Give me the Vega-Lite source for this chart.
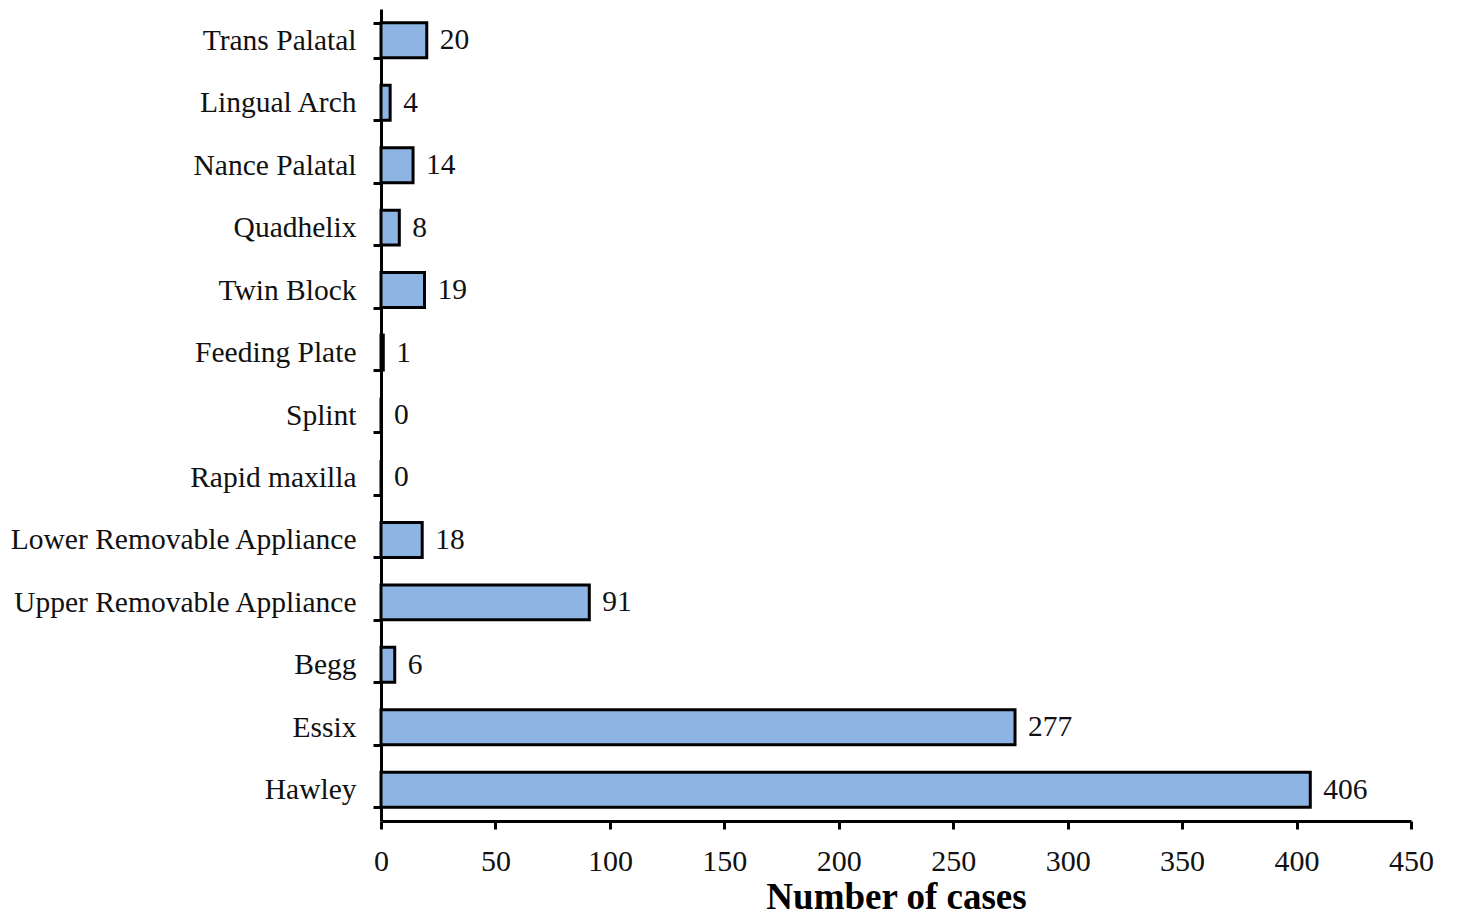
{
  "$schema": "https://vega.github.io/schema/vega-lite/v6.json",
  "autosize": {"type": "none"},
  "width": 1030,
  "height": 812,
  "padding": {"left": 381, "top": 9, "right": 48, "bottom": 100},
  "background": "white",
  "config": {
    "view": {"stroke": null},
    "font": "Liberation Serif",
    "axis": {"labelFont": "Liberation Serif", "titleFont": "Liberation Serif", "labelColor": "#111111", "titleColor": "#000000", "domainColor": "black", "tickColor": "black", "domainWidth": 3, "tickWidth": 3, "grid": false}
  },
  "data": {
    "values": [
      {"appliance": "Trans Palatal", "cases": 20},
      {"appliance": "Lingual Arch", "cases": 4},
      {"appliance": "Nance Palatal", "cases": 14},
      {"appliance": "Quadhelix", "cases": 8},
      {"appliance": "Twin Block", "cases": 19},
      {"appliance": "Feeding Plate", "cases": 1},
      {"appliance": "Splint", "cases": 0},
      {"appliance": "Rapid maxilla", "cases": 0},
      {"appliance": "Lower Removable Appliance", "cases": 18},
      {"appliance": "Upper Removable Appliance", "cases": 91},
      {"appliance": "Begg", "cases": 6},
      {"appliance": "Essix", "cases": 277},
      {"appliance": "Hawley", "cases": 406}
    ]
  },
  "encoding": {
    "y": {
      "field": "appliance", "type": "nominal", "sort": null,
      "scale": {"paddingInner": 0.44, "paddingOuter": 0.22},
      "axis": {"title": null, "tickBand": "extent", "tickSize": 8, "labelPadding": 17, "labelFontSize": 29.5, "labelLimit": 400}
    }
  },
  "layer": [
    {
      "mark": {"type": "bar", "fill": "#8DB4E2", "stroke": "black", "strokeWidth": 3},
      "encoding": {
        "x": {
          "field": "cases", "type": "quantitative",
          "scale": {"domain": [0, 450], "nice": false},
          "axis": {"title": "Number of cases", "values": [0, 50, 100, 150, 200, 250, 300, 350, 400, 450], "tickSize": 8, "labelPadding": 17, "labelFontSize": 30, "titleFontSize": 37, "titleFontWeight": "bold", "titlePadding": 3, "labelFlush": false}
        }
      }
    },
    {
      "mark": {"type": "text", "align": "left", "baseline": "middle", "dx": 13, "fontSize": 29.5, "color": "#111111"},
      "encoding": {
        "x": {"field": "cases", "type": "quantitative"},
        "text": {"field": "cases", "type": "quantitative"}
      }
    }
  ]
}
